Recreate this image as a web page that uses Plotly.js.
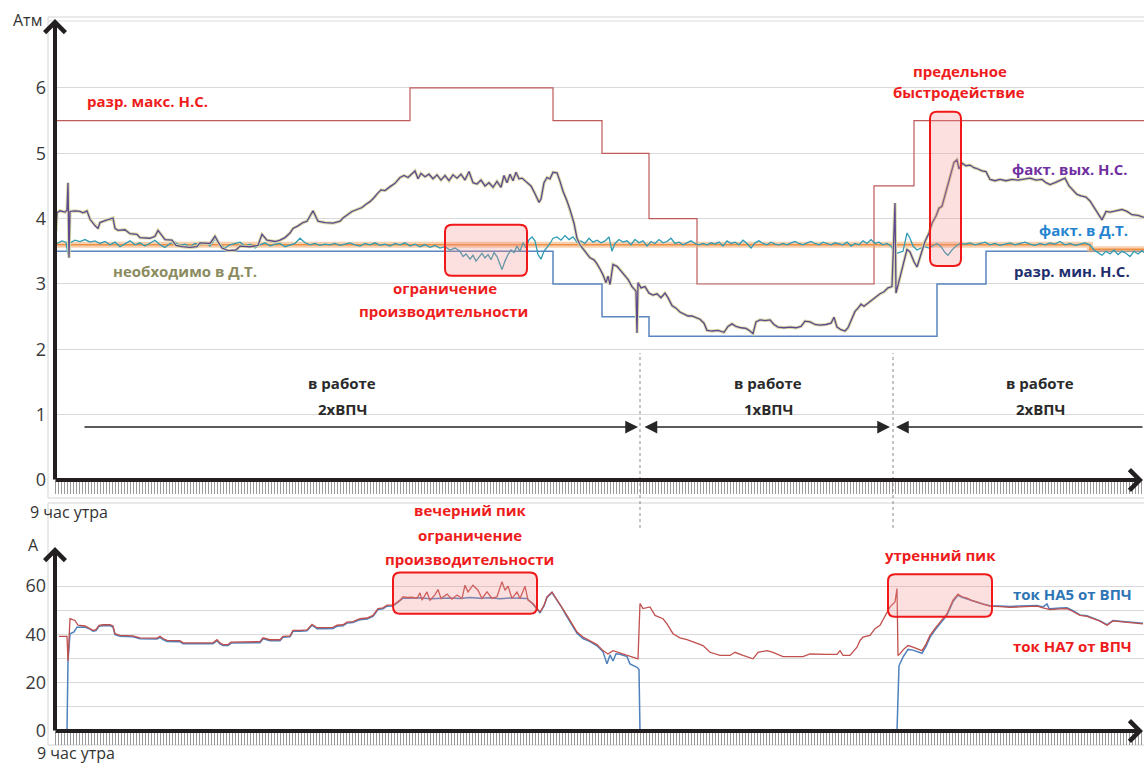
<!DOCTYPE html>
<html><head><meta charset="utf-8">
<script src="https://cdn.plot.ly/plotly-3.0.1.min.js"></script>
<style>html,body{margin:0;padding:0;background:#fff}#c{width:1144px;height:766px}</style>
</head><body><div id="c"></div>
<script>
// ---------- DATA (time index t, pressure in Атм, current in A) ----------
// разр. макс. Н.С. (step)
const maxT = [0, 355, 498, 547, 594, 642, 819, 859, 1089];
const maxV = [5.5, 6.0, 5.5, 5.0, 4.0, 3.0, 4.5, 5.5, 5.5];
// разр. мин. Н.С. (step)
const minT = [0, 498, 547, 594, 882, 931, 1089];
const minV = [3.5, 3.0, 2.5, 2.2, 3.0, 3.5, 3.5];
// необходимо в Д.Т. (step)
const needT = [0, 1035, 1089];
const needV = [3.6, 3.53, 3.53];
// факт. вых. Н.С.
const outT = [1,2,5,10,12,13,14,15,20,25,28,32,35,40,43,45,50,55,58,60,63,70,75,82,85,95,100,103,107,110,117,121,127,135,142,145,155,160,164,167,173,181,185,195,203,207,212,220,225,230,235,238,243,248,252,255,258,263,270,278,285,288,293,297,302,307,311,315,319,322,326,330,335,340,345,349,353,357,360,363,366,370,374,378,382,386,390,394,398,402,406,410,414,418,422,426,430,434,438,442,446,449,452,455,458,461,464,467,472,476,480,484,486,489,492,495,498,502,505,508,512,515,519,522,525,528,532,535,539,542,545,548,551,553,555,558,562,565,569,573,577,581,582,583,586,590,594,598,602,606,610,613,617,621,625,629,633,637,641,645,649,652,657,663,669,673,677,681,686,691,695,698,701,705,710,715,719,723,729,735,741,746,750,755,760,765,771,776,779,782,786,790,793,796,800,803,806,809,813,817,821,825,829,833,837,840,841,844,848,852,855,859,862,866,870,874,877,881,884,887,890,893,896,899,902,904,907,911,915,919,923,927,931,935,940,945,951,957,963,969,975,981,987,991,995,1000,1005,1010,1014,1018,1022,1026,1031,1035,1039,1043,1047,1051,1055,1061,1067,1072,1077,1083,1089];
const outV = [3.81,4.09,4.12,4.10,4.13,4.55,3.40,4.11,4.12,4.11,4.09,4.12,3.99,3.89,3.85,3.94,3.97,4.00,4.01,3.85,3.82,3.83,3.77,3.76,3.71,3.70,3.73,3.82,3.73,3.68,3.67,3.59,3.57,3.56,3.57,3.63,3.62,3.73,3.62,3.55,3.51,3.52,3.58,3.57,3.59,3.76,3.67,3.65,3.67,3.71,3.78,3.85,3.89,3.94,3.96,4.04,4.12,3.96,3.94,3.93,3.96,4.01,4.06,4.11,4.14,4.17,4.22,4.26,4.32,4.38,4.44,4.43,4.49,4.54,4.63,4.66,4.63,4.68,4.73,4.61,4.69,4.64,4.68,4.61,4.67,4.59,4.66,4.58,4.67,4.62,4.68,4.59,4.72,4.55,4.53,4.59,4.50,4.55,4.48,4.57,4.48,4.66,4.55,4.68,4.58,4.71,4.61,4.62,4.55,4.50,4.38,4.25,4.30,4.55,4.63,4.61,4.71,4.70,4.57,4.42,4.27,4.14,3.93,3.70,3.60,3.54,3.47,3.40,3.37,3.31,3.23,3.14,3.02,3.12,2.99,3.30,3.27,3.22,3.15,3.07,2.96,2.89,2.25,3.02,2.94,2.96,2.86,2.83,2.85,2.79,2.86,2.79,2.67,2.63,2.57,2.54,2.51,2.51,2.48,2.46,2.40,2.29,2.28,2.29,2.26,2.35,2.39,2.35,2.33,2.32,2.28,2.24,2.42,2.45,2.44,2.45,2.38,2.34,2.33,2.34,2.33,2.35,2.43,2.42,2.38,2.37,2.38,2.40,2.49,2.34,2.30,2.28,2.33,2.45,2.58,2.63,2.69,2.66,2.71,2.76,2.80,2.85,2.88,2.94,2.96,4.24,2.86,3.04,3.30,3.53,3.49,3.34,3.26,3.47,3.65,3.78,3.93,4.04,4.16,4.19,4.35,4.53,4.71,4.86,4.90,4.76,4.85,4.81,4.82,4.78,4.76,4.73,4.72,4.60,4.58,4.60,4.58,4.60,4.59,4.60,4.62,4.59,4.60,4.55,4.52,4.55,4.58,4.62,4.50,4.43,4.37,4.35,4.33,4.27,4.18,4.09,3.98,4.11,4.10,4.12,4.14,4.11,4.06,4.05,4.02];
// факт. в Д.Т.
const dtT = [2,7,11,13,15,20,25,30,35,40,45,50,55,60,65,70,75,80,85,90,95,100,105,110,115,120,125,130,135,140,145,150,155,160,165,170,175,180,185,190,195,200,205,210,215,220,225,230,235,240,245,250,255,260,265,270,275,280,285,290,295,300,305,310,315,320,325,330,335,340,345,350,355,360,365,370,375,380,385,390,395,400,405,408,411,415,418,421,424,427,430,433,436,439,442,445,447,450,453,456,459,462,465,468,471,474,477,480,483,486,489,492,495,498,502,506,510,514,518,522,526,530,534,538,542,546,550,554,557,560,564,568,572,576,580,584,588,592,596,600,604,608,612,616,620,624,628,632,636,640,644,648,652,656,660,664,668,672,676,680,684,688,692,696,700,704,708,712,716,720,724,728,732,736,740,744,748,752,756,760,764,768,772,776,780,784,788,792,796,800,804,808,812,816,820,824,828,832,836,840,844,848,852,855,858,862,866,870,874,878,882,886,890,893,897,901,905,910,915,920,925,930,935,940,945,950,955,960,965,970,975,980,985,990,995,1000,1005,1010,1015,1020,1025,1030,1035,1039,1043,1047,1051,1055,1059,1063,1067,1071,1075,1079,1083,1087,1089];
const dtV = [3.62,3.66,3.64,3.45,3.63,3.67,3.65,3.68,3.64,3.66,3.62,3.65,3.60,3.64,3.57,3.62,3.66,3.60,3.63,3.58,3.62,3.67,3.60,3.56,3.62,3.64,3.59,3.61,3.57,3.62,3.60,3.64,3.58,3.69,3.60,3.55,3.60,3.62,3.64,3.58,3.61,3.55,3.60,3.63,3.58,3.61,3.62,3.57,3.60,3.62,3.70,3.63,3.60,3.62,3.59,3.61,3.60,3.62,3.59,3.61,3.63,3.60,3.58,3.62,3.60,3.63,3.59,3.61,3.58,3.62,3.60,3.63,3.58,3.61,3.57,3.60,3.56,3.59,3.55,3.57,3.52,3.55,3.50,3.42,3.46,3.38,3.44,3.35,3.42,3.47,3.40,3.45,3.37,3.48,3.42,3.30,3.22,3.35,3.45,3.52,3.48,3.58,3.50,3.63,3.55,3.68,3.72,3.66,3.45,3.38,3.50,3.56,3.62,3.70,3.72,3.67,3.74,3.68,3.72,3.64,3.66,3.62,3.70,3.64,3.67,3.63,3.66,3.72,3.50,3.62,3.68,3.64,3.66,3.60,3.68,3.63,3.66,3.58,3.65,3.62,3.68,3.63,3.65,3.70,3.62,3.64,3.60,3.63,3.66,3.62,3.60,3.62,3.60,3.63,3.61,3.64,3.58,3.66,3.62,3.64,3.60,3.67,3.62,3.55,3.63,3.66,3.62,3.60,3.64,3.61,3.60,3.62,3.60,3.63,3.65,3.62,3.60,3.63,3.65,3.62,3.60,3.64,3.62,3.60,3.63,3.62,3.60,3.64,3.58,3.62,3.60,3.66,3.62,3.68,3.62,3.64,3.60,3.62,3.58,3.46,3.48,3.50,3.78,3.70,3.58,3.52,3.55,3.57,3.55,3.58,3.62,3.57,3.48,3.44,3.52,3.58,3.62,3.61,3.63,3.60,3.62,3.64,3.60,3.62,3.59,3.61,3.63,3.60,3.62,3.64,3.61,3.59,3.62,3.60,3.63,3.61,3.65,3.60,3.62,3.59,3.61,3.63,3.60,3.52,3.48,3.44,3.50,3.46,3.52,3.45,3.50,3.47,3.42,3.50,3.46,3.51,3.48];
// ток НА7 от ВПЧ
const ha7T = [4,12,13,15,20,23,30,35,38,41,44,48,55,58,60,65,72,78,85,95,102,105,108,112,120,125,128,140,150,158,162,165,168,173,176,190,200,205,208,212,215,225,228,235,238,245,252,257,262,270,278,282,288,292,298,302,305,312,318,323,328,332,338,345,348,352,357,362,365,367,372,375,380,383,386,392,397,402,407,410,413,418,423,427,432,437,442,447,450,453,457,462,465,470,473,478,485,489,492,497,502,507,511,515,522,528,535,542,548,553,558,563,572,578,583,585,588,595,600,608,612,618,625,632,638,648,655,665,675,680,688,698,703,712,718,728,748,755,772,782,785,788,795,802,805,808,815,820,825,830,835,840,842,843,845,849,853,858,862,867,871,875,880,885,892,898,903,907,912,917,922,928,935,945,955,965,975,982,988,995,1005,1012,1018,1025,1032,1038,1045,1052,1058,1065,1072,1080,1088];
const ha7V = [39.2,39.2,29.0,46.5,45.8,43.8,43.5,42.5,41.7,42.0,43.8,44.0,44.0,43.5,40.3,39.6,39.6,39.4,38.6,38.6,38.5,39.2,38.3,37.5,37.5,37.4,36.5,36.5,36.7,36.5,37.8,36.5,35.8,35.8,36.8,36.9,37.0,37.0,38.6,38.0,37.8,37.8,39.2,39.4,41.7,41.7,41.9,44.2,42.8,42.8,42.9,43.8,44.0,45.1,45.3,46.0,46.5,46.8,47.9,50.7,51.0,52.1,52.1,54.2,55.6,55.3,55.4,55.0,57.2,54.2,57.6,54.2,56.5,58.6,54.9,56.7,54.6,56.3,54.9,60.4,57.6,60.4,58.3,54.9,57.6,54.9,55.6,61.8,58.3,60.0,54.9,57.6,54.9,60.0,54.2,52.8,49.3,52.0,55.6,57.6,54.5,51.4,48.5,45.8,41.0,38.9,37.5,35.8,33.3,31.9,33.3,32.6,31.3,30.6,29.9,52.8,50.7,51.4,47.9,46.5,44.4,40.3,38.6,37.8,36.8,35.4,32.6,31.3,31.3,32.6,31.3,29.9,32.6,33.3,32.6,30.8,30.8,31.9,31.7,31.7,33.3,31.3,31.3,34.7,37.5,38.9,39.6,42.4,43.8,47.9,51.4,53.5,59.0,31.3,32.0,34.0,35.4,34.7,34.0,33.3,36.0,39.6,42.5,45.1,48.6,54.2,56.7,55.6,55.0,54.0,53.5,52.5,51.7,51.5,51.2,51.4,51.6,51.7,51.0,50.3,50.6,50.7,49.5,47.9,47.5,46.5,45.5,43.8,45.6,45.3,45.1,44.8,44.4];
// ток НА5 от ВПЧ (null = нет данных)
const ha5T = [12,13,15,19,22,30,35,38,41,44,48,55,58,60,65,72,78,85,95,102,105,108,112,120,125,128,140,150,158,162,165,168,173,176,190,200,205,208,212,215,225,228,235,238,245,252,257,262,270,278,282,288,292,298,302,305,312,318,323,328,332,338,345,348,355,365,375,385,395,405,415,425,435,445,455,465,472,478,485,489,492,497,502,507,511,515,522,528,535,542,548,552,555,558,561,565,572,575,579,582,584,585,586,842,844,848,853,858,862,867,871,875,880,885,892,898,903,907,912,917,922,928,935,945,955,965,975,982,988,992,994,995,1005,1012,1018,1025,1032,1038,1045,1052,1058,1065,1072,1080,1088];
const ha5V = [0,29.0,40.3,41.0,43.0,43.1,42.2,41.3,41.6,43.4,43.6,43.6,43.1,39.9,39.2,39.2,39.0,38.2,38.2,38.1,38.8,37.9,37.1,37.1,37.0,36.1,36.1,36.3,36.1,37.4,36.1,35.4,35.4,36.4,36.5,36.6,36.6,38.2,37.6,37.4,37.4,38.8,39.0,41.3,41.3,41.5,43.8,42.4,42.4,42.5,43.4,43.6,44.7,44.9,45.6,46.1,46.4,47.5,50.3,50.6,51.7,51.8,54.0,55.0,55.0,55.2,54.8,55.0,55.1,54.9,55.3,55.0,55.2,54.8,55.1,55.0,54.9,52.5,49.0,51.8,55.3,57.3,54.2,51.0,48.0,45.3,40.5,38.3,37.0,35.3,32.8,27.8,31.5,29.0,32.0,31.8,30.8,27.8,26.8,26.4,25.5,0,null,0,27.0,30.6,33.8,33.5,32.8,32.2,35.0,38.8,41.8,44.5,48.0,53.6,56.2,55.4,54.6,53.8,53.3,52.6,51.9,51.8,51.6,51.8,51.9,52.0,51.4,52.6,50.8,50.6,50.9,51.0,49.8,48.1,47.7,46.7,45.6,44.0,45.8,45.5,45.3,45.0,44.6];
const topTicks = [0,1,2,3,4,5,6];
const botTicks = [0,10,20,30,40,50,60,70];
const botTickText = ['0','','20','','40','','60',''];

// ---------- LAYOUT HELPERS ----------
const FONT = 'Open Sans, Noto Sans, sans-serif';
const AX = '#231f20';
function rr(x0,x1,y0,y1,rx,ry){
  return `M${x0+rx},${y0} L${x1-rx},${y0} Q${x1},${y0} ${x1},${y0+ry} L${x1},${y1-ry} Q${x1},${y1} ${x1-rx},${y1} L${x0+rx},${y1} Q${x0},${y1} ${x0},${y1-ry} L${x0},${y0+ry} Q${x0},${y0} ${x0+rx},${y0} Z`;
}
const boxStyle = {fillcolor:'rgba(244,140,140,0.28)', line:{color:'#f01818', width:2}, layer:'above'};

const traces = [
  {x:maxT, y:maxV, xaxis:'x', yaxis:'y', mode:'lines', line:{shape:'hv', color:'#bf5a5c', width:1.2}, name:'разр. макс. Н.С.'},
  {x:minT, y:minV, xaxis:'x', yaxis:'y', mode:'lines', line:{shape:'hv', color:'#5b85c0', width:1.5}, name:'разр. мин. Н.С.'},
  {x:needT, y:needV, xaxis:'x', yaxis:'y', mode:'lines', line:{shape:'hv', color:'rgba(240,170,110,0.55)', width:6}, name:'необходимо в Д.Т.'},
  {x:needT, y:needV, xaxis:'x', yaxis:'y', mode:'lines', line:{shape:'hv', color:'#ef8f45', width:1.6}, name:'необходимо в Д.Т.'},
  {x:dtT, y:dtV, xaxis:'x', yaxis:'y', mode:'lines', line:{color:'#2f9cb3', width:1.3}, name:'факт. в Д.Т.'},
  {x:outT, y:outV, xaxis:'x', yaxis:'y', mode:'lines', line:{color:'#d6dba6', width:3.2}, name:'факт. вых. Н.С.'},
  {x:outT, y:outV, xaxis:'x', yaxis:'y', mode:'lines', line:{color:'#5f4890', width:1.3}, name:'факт. вых. Н.С.'},
  {x:ha5T, y:ha5V, xaxis:'x2', yaxis:'y2', mode:'lines', connectgaps:false, line:{color:'#4f81bd', width:1.5}, name:'ток НА5 от ВПЧ'},
  {x:ha7T, y:ha7V, xaxis:'x2', yaxis:'y2', mode:'lines', line:{color:'#c0504d', width:1.3}, name:'ток НА7 от ВПЧ'}
];

const xBase = {range:[0,1089], showgrid:false, zeroline:false, showline:false, ticks:'outside', tickmode:'linear', tick0:0, dtick:3, ticklen:13, tickwidth:1, tickcolor:'#9a9a9a', showticklabels:false, fixedrange:true};

function txt(x,y,text,color,xref,yref,size){
  return {x:x, y:y, xref:xref||'x', yref:yref||'y', text:text, showarrow:false, font:{family:FONT, size:size||15, color:color}, xanchor:'center', yanchor:'middle'};
}
const RED = '#ee1c1c';
const annotations = [
  // axis arrows
  {xref:'paper', yref:'paper', x:0, y:1-19/766, ax:0, ay:462, text:'', showarrow:true, arrowhead:4, arrowsize:1, arrowwidth:4, arrowcolor:AX},
  {xref:'paper', yref:'paper', x:0.9991, y:1-480/766, ax:-1089, ay:0, text:'', showarrow:true, arrowhead:4, arrowsize:1, arrowwidth:4, arrowcolor:AX},
  {xref:'paper', yref:'paper', x:0, y:1-547/766, ax:0, ay:185, text:'', showarrow:true, arrowhead:4, arrowsize:1, arrowwidth:4, arrowcolor:AX},
  {xref:'paper', yref:'paper', x:0.9991, y:1-731/766, ax:-1089, ay:0, text:'', showarrow:true, arrowhead:4, arrowsize:1, arrowwidth:4, arrowcolor:AX},
  // working-period arrows
  {xref:'x', yref:'y', x:583, y:0.81, axref:'x', ayref:'y', ax:28, ay:0.81, text:'', showarrow:true, arrowhead:2, arrowsize:1.7, arrowwidth:1.5, arrowcolor:'#262626'},
  {xref:'x', yref:'y', x:835, y:0.81, axref:'x', ayref:'y', ax:588, ay:0.81, text:'', showarrow:true, arrowside:'end+start', arrowhead:2, startarrowhead:2, arrowsize:1.7, startarrowsize:1.7, arrowwidth:1.5, arrowcolor:'#262626'},
  {xref:'x', yref:'y', x:841, y:0.81, axref:'x', ayref:'y', ax:1089, ay:0.81, text:'', showarrow:true, arrowhead:2, arrowsize:1.7, arrowwidth:1.5, arrowcolor:'#262626'},
  // axis captions
  txt(-0.025, 1-20/766, 'Атм', '#333', 'paper', 'paper', 16),
  txt(0.0129, 1-512/766, '9 час утра', '#333', 'paper', 'paper', 16),
  txt(-0.020, 1-545/766, 'А', '#333', 'paper', 'paper', 16),
  txt(0.0193, 1-753/766, '9 час утра', '#333', 'paper', 'paper', 16),
  // top labels
  txt(92, 5.80, '<b>разр. макс. Н.С.</b>', RED),
  txt(130, 3.20, '<b>необходимо в Д.Т.</b>', '#8b8b60'),
  txt(390, 2.94, '<b>ограничение</b>', RED),
  txt(388, 2.59, '<b>производительности</b>', RED),
  txt(905, 6.26, '<b>предельное</b>', RED),
  txt(904, 5.94, '<b>быстродействие</b>', RED),
  txt(1015, 4.76, '<b>факт. вых. Н.С.</b>', '#7030a0'),
  txt(1028, 3.83, '<b>факт. в Д.Т.</b>', '#2584cf'),
  txt(1017, 3.20, '<b>разр. мин. Н.С.</b>', '#1f2f6e'),
  txt(287, 1.49, '<b>в работе</b>', '#2a2a2a'),
  txt(287, 1.09, '<b>2хВПЧ</b>', '#2a2a2a'),
  txt(713, 1.49, '<b>в работе</b>', '#2a2a2a'),
  txt(713, 1.09, '<b>1хВПЧ</b>', '#2a2a2a'),
  txt(985, 1.49, '<b>в работе</b>', '#2a2a2a'),
  txt(985, 1.09, '<b>2хВПЧ</b>', '#2a2a2a'),
  // bottom labels
  txt(0.3811, 1-510/766, '<b>вечерний пик</b>', RED, 'paper', 'paper'),
  txt(0.3811, 1-535/766, '<b>ограничение</b>', RED, 'paper', 'paper'),
  txt(0.3802, 1-559/766, '<b>производительности</b>', RED, 'paper', 'paper'),
  txt(0.8127, 1-555/766, '<b>утренний пик</b>', RED, 'paper', 'paper'),
  txt(0.9348, 1-594/766, '<b>ток НА5 от ВПЧ</b>', '#2e75b6', 'paper', 'paper'),
  txt(0.9348, 1-646/766, '<b>ток НА7 от ВПЧ</b>', RED, 'paper', 'paper')
];

const shapes = [
  // light frames
  {type:'rect', xref:'paper', yref:'paper', x0:-0.0064, x1:1.01, y0:1-498/766, y1:1-17/766, line:{color:'#d4d4d4', width:1}, layer:'below'},
  {type:'line', xref:'paper', yref:'paper', x0:-0.0064, x1:1.01, y0:1-21/766, y1:1-21/766, line:{color:'#dcdcdc', width:1}, layer:'below'},
  {type:'rect', xref:'paper', yref:'paper', x0:-0.0064, x1:1.01, y0:1-745/766, y1:1-503/766, line:{color:'#d4d4d4', width:1}, layer:'below'},
  // period separators
  {type:'line', xref:'x', yref:'paper', x0:585, x1:585, y0:1-528/766, y1:1-353/766, line:{color:'#8a8a8a', width:1, dash:'dot'}},
  {type:'line', xref:'x', yref:'paper', x0:838, x1:838, y0:1-528/766, y1:1-353/766, line:{color:'#8a8a8a', width:1, dash:'dot'}},
  // highlight boxes
  Object.assign({type:'path', xref:'x', yref:'y', path:rr(390,472,3.124,3.905,7,0.107)}, boxStyle),
  Object.assign({type:'path', xref:'x', yref:'y', path:rr(875,906,3.277,5.636,7,0.107)}, boxStyle),
  Object.assign({type:'path', xref:'x2', yref:'y2', path:rr(338,482,48.6,65.6,7,2.9)}, boxStyle),
  Object.assign({type:'path', xref:'x2', yref:'y2', path:rr(833,937,47.3,64.9,7,2.9)}, boxStyle)
];

const layout = {
  width:1144, height:766,
  margin:{l:55, r:0, t:0, b:0},
  paper_bgcolor:'#fff', plot_bgcolor:'#fff',
  showlegend:false,
  font:{family:FONT, color:'#333'},
  xaxis: Object.assign({}, xBase, {domain:[0,1], anchor:'y'}),
  yaxis: {domain:[1-480/766, 1-20/766], range:[0,7.04], anchor:'x', tickmode:'array', tickvals:topTicks, ticktext:topTicks.map(String), showgrid:true, gridcolor:'#d9d9d9', gridwidth:1, zeroline:false, showline:false, ticks:'', ticklabelstandoff:8, tickfont:{family:FONT, size:18, color:'#3a3a3a'}, fixedrange:true},
  xaxis2: Object.assign({}, xBase, {domain:[0,1], anchor:'y2'}),
  yaxis2: {domain:[1-731/766, 1-562/766], range:[0,70], anchor:'x2', tickmode:'array', tickvals:botTicks, ticktext:botTickText, showgrid:true, gridcolor:'#d9d9d9', gridwidth:1, zeroline:false, showline:false, ticks:'', ticklabelstandoff:8, tickfont:{family:FONT, size:18, color:'#3a3a3a'}, fixedrange:true},
  annotations: annotations,
  shapes: shapes
};

Plotly.newPlot('c', traces, layout, {staticPlot:true, displayModeBar:false});
</script>
</body></html>
